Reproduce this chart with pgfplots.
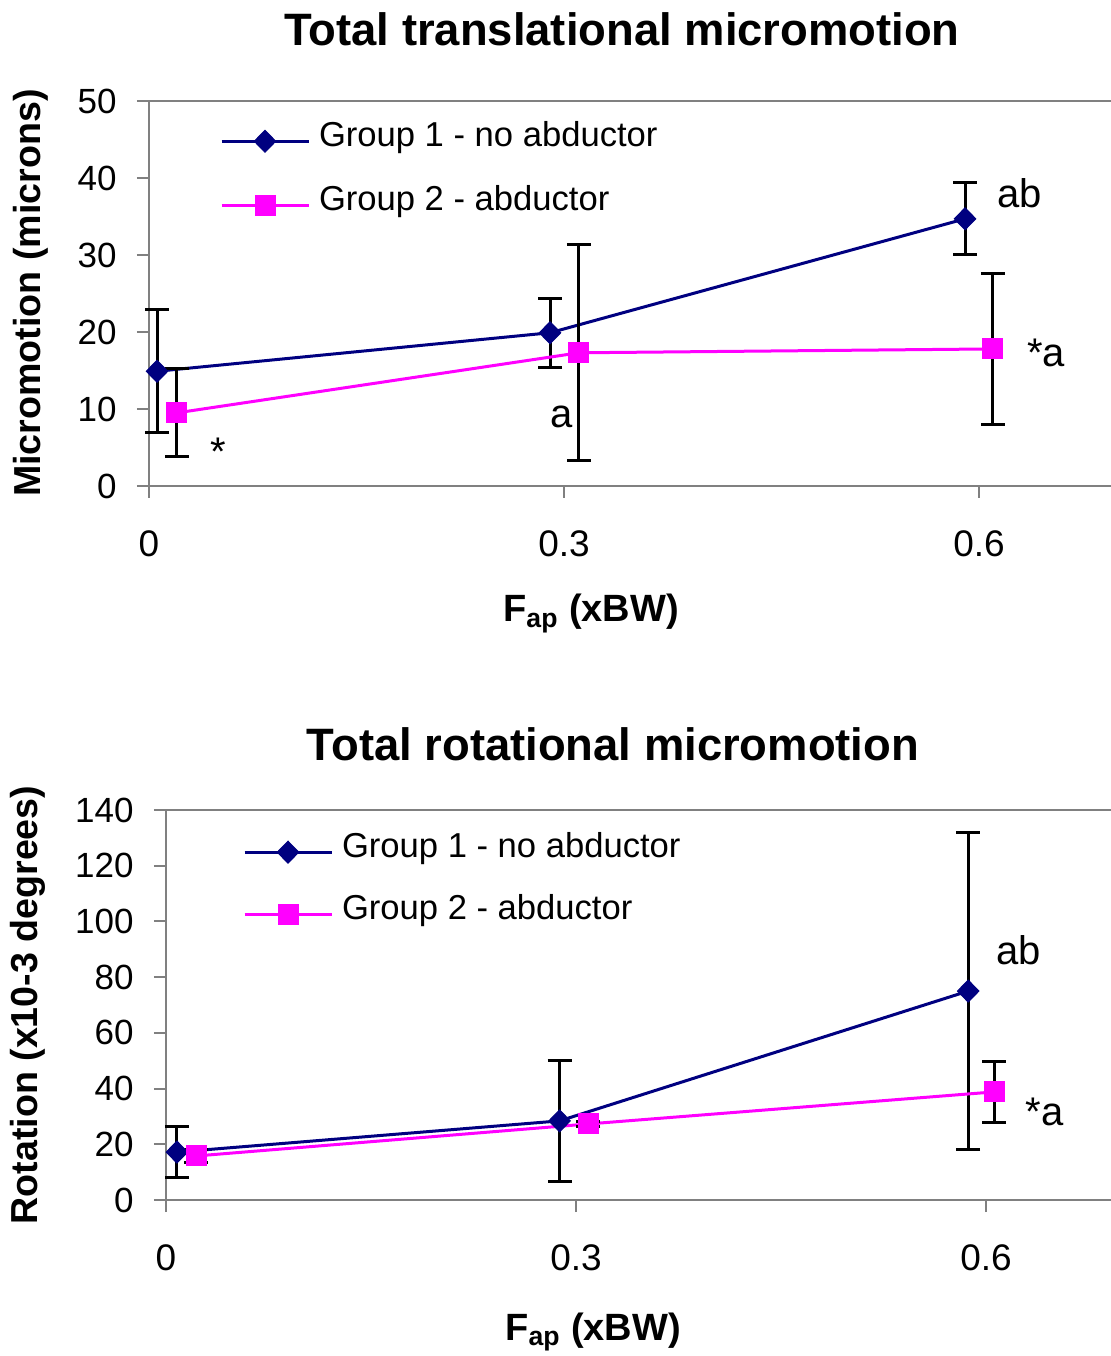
\documentclass[border=0pt]{standalone}
\usepackage{fontspec}
\setmainfont{Liberation Sans}
\usepackage{pgfplots}
\pgfplotsset{compat=1.18}
\definecolor{navyc}{RGB}{0,0,128}
\definecolor{magc}{RGB}{255,0,255}
\definecolor{axgray}{RGB}{128,128,128}
\newcommand{\fs}[1]{\fontsize{#1}{1.2\dimexpr#1\relax}\selectfont}
\pgfplotsset{
  myaxis/.style={
    scale only axis,
    anchor=south west,
    axis x line*=bottom,
    axis y line*=left,
    axis line style={axgray, line width=1pt},
    tick style={axgray, line width=1pt},
    tick align=outside,
    major tick length=6pt,
    enlargelimits=false,
    clip=false,
    /pgf/number format/assume math mode=true,
    yticklabel style={font=\fs{17.5pt}, inner sep=0pt, xshift=-10pt},
    xticklabel style={font=\fs{18.5pt}, inner sep=0pt, yshift=-16pt},
    title style={font=\bfseries\fs{22.7pt}, anchor=base, inner sep=0pt},
    xlabel style={font=\bfseries\fs{19pt}, anchor=base, inner sep=0pt},
    ylabel style={font=\bfseries\fs{18.8pt}, anchor=center, inner sep=0pt},
    legend cell align=left,
    legend style={draw=none, fill=none, inner sep=0pt, outer sep=0pt,
      font=\fs{17.3pt}, anchor=north west,
      nodes={inner sep=0pt, text depth=0.2em, text height=0.75em},
      row sep=21.5pt,
      /tikz/every odd column/.append style={column sep=4.5pt}},
    legend image code/.code={\draw[mark repeat=2,mark phase=2,##1] plot coordinates {(0pt,0pt) (21.75pt,0pt) (43.5pt,0pt)};},
    g1/.style={navyc, line width=1.5pt, mark=diamond*, mark size=5.5pt,
      mark options={solid, xscale=1.3, fill=navyc, draw=navyc, line width=0.5pt},
      error bars/.cd, y dir=both, y explicit,
      error bar style={black, line width=1.5pt},
      error mark options={black, rotate=90, mark size=6pt, line width=1.5pt}},
    g2/.style={magc, line width=1.5pt, mark=square*, mark size=5pt,
      mark options={solid, fill=magc, draw=magc, line width=0.5pt},
      error bars/.cd, y dir=both, y explicit,
      error bar style={black, line width=1.5pt},
      error mark options={black, rotate=90, mark size=6pt, line width=1.5pt}},
  }
}
\begin{document}
\begin{tikzpicture}
\path[use as bounding box] (0pt,0pt) rectangle (555.5pt,678pt);
% ---------------- top panel ----------------
\begin{axis}[myaxis,
  at={(74.5pt,435pt)},
  width=481pt, height=192.5pt,
  xmin=0, xmax=0.6954, ymin=0, ymax=50,
  xtick={0,0.3,0.6}, xticklabels={0,0.3,0.6},
  ytick={0,10,20,30,40,50},
  title={Total translational micromotion},
  title style={at={(axis description cs:0.4917,1.114)}},
  xlabel={F\textsubscript{ap} (xBW)},
  xlabel style={at={(axis description cs:0.4595,-0.353)}},
  ylabel={Micromotion (microns)},
  ylabel style={at={(axis description cs:-0.1227,0.501)}},
  legend style={at={(axis description cs:0.0738,0.924)}},
]
\addplot[g1] coordinates {
  (0.0058,14.9) +- (0,8.0)
  (0.2899,19.9) +- (0,4.5)
  (0.5899,34.7) +- (0,4.7)
};
\addplot[g2] coordinates {
  (0.0202,9.5) +- (0,5.7)
  (0.3108,17.3) +- (0,14.0)
  (0.6100,17.8) +- (0,9.8)
};
\legend{Group 1 - no abductor, Group 2 - abductor}
\draw[axgray, line width=1pt] (rel axis cs:0,1) -- (rel axis cs:1,1);
\node[anchor=base west, inner sep=0pt, font=\fs{20pt}] at (axis cs:0.0441,2.6) {*};
\node[anchor=base west, inner sep=0pt, font=\fs{20pt}] at (axis cs:0.2899,7.66) {a};
\node[anchor=base west, inner sep=0pt, font=\fs{20pt}] at (axis cs:0.6130,36.2) {ab};
\node[anchor=base west, inner sep=0pt, font=\fs{20pt}] at (axis cs:0.6347,15.5) {*a};
\end{axis}
% ---------------- bottom panel ----------------
\begin{axis}[myaxis,
  at={(83pt,78pt)},
  width=472.5pt, height=195pt,
  xmin=0, xmax=0.6915, ymin=0, ymax=140,
  xtick={0,0.3,0.6}, xticklabels={0,0.3,0.6},
  ytick={0,20,40,60,80,100,120,140},
  title={Total rotational micromotion},
  title style={at={(axis description cs:0.473,1.097)}},
  xlabel={F\textsubscript{ap} (xBW)},
  xlabel style={at={(axis description cs:0.452,-0.359)}},
  ylabel={Rotation (x10-3 degrees)},
  ylabel style={at={(axis description cs:-0.146,0.5)}},
  legend style={at={(axis description cs:0.0815,0.920)}},
  legend style={row sep=20.5pt},
]
\addplot[g1] coordinates {
  (0.008,17.2) +- (0,9.2)
  (0.288,28.4) +- (0,21.8)
  (0.587,75.0) +- (0,56.8)
};
\addplot[g2] coordinates {
  (0.022,15.8) +- (0,2.2)
  (0.309,27.3) +- (0,1.0)
  (0.606,38.8) +- (0,11.0)
};
\legend{Group 1 - no abductor, Group 2 - abductor}
\draw[axgray, line width=1pt] (rel axis cs:0,1) -- (rel axis cs:1,1);
\node[anchor=base west, inner sep=0pt, font=\fs{20pt}] at (axis cs:0.6074,84.4) {ab};
\node[anchor=base west, inner sep=0pt, font=\fs{20pt}] at (axis cs:0.6286,26.9) {*a};
\end{axis}
\end{tikzpicture}
\end{document}
